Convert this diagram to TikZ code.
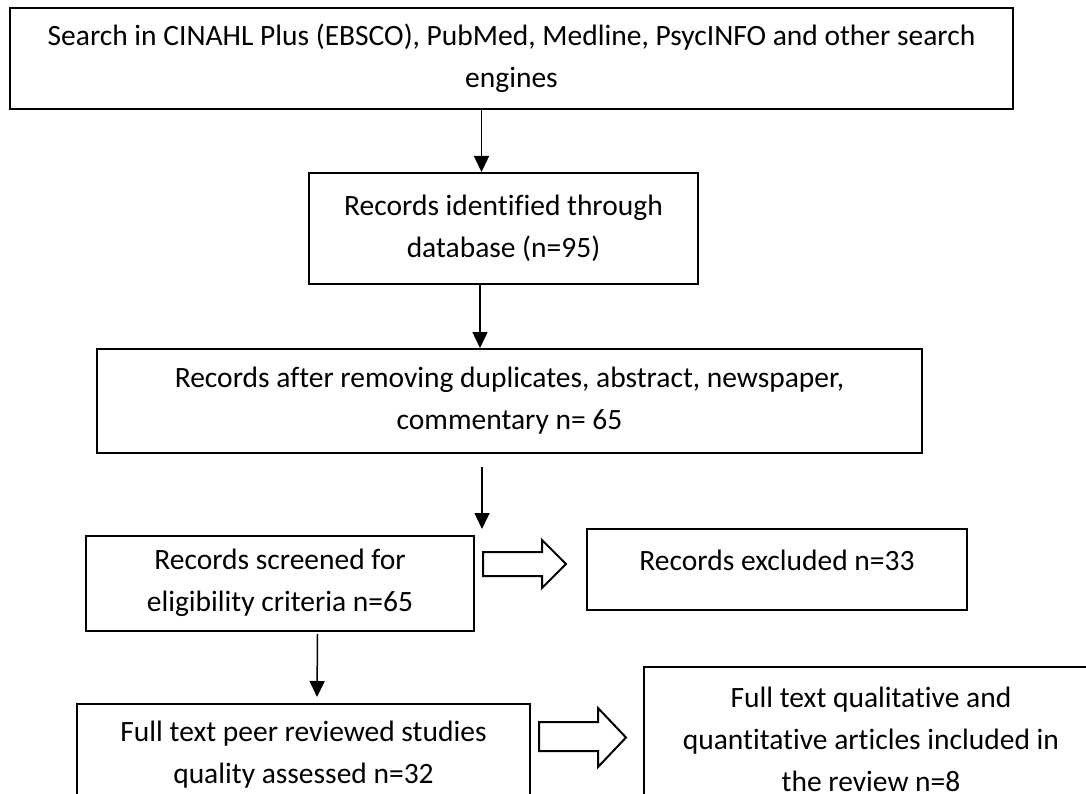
\documentclass[tikz,border=0pt]{standalone}
\usepackage{fontspec}
\setmainfont[Ligatures=NoCommon]{Carlito}
\usetikzlibrary{arrows.meta}
\begin{document}
\begin{tikzpicture}[x=1pt,y=-1pt,
  box/.style={draw=black, line width=2pt, rectangle, inner sep=0pt, align=center,
    font=\fontsize{29.5}{42}\selectfont},
  arr/.style={line width=1.5pt, -{Triangle[length=16pt,width=15pt]}},
  blockarr/.style={draw=black, line width=2pt, fill=white, line join=miter}]
\useasboundingbox (0,0) rectangle (1086,794);
\clip (0,0) rectangle (1086,794);
\fill[white] (0,0) rectangle (1086,794);

\node[box, minimum width=1003pt, minimum height=101pt] (b1) at (511.5,58.5)
  {Search in CINAHL Plus (EBSCO), PubMed, Medline, PsycINFO and other search\\engines};
\node[box, minimum width=389pt, minimum height=111pt] (b2) at (503.5,228.5)
  {Records identified through\\database (n=95)};
\node[box, minimum width=825pt, minimum height=104pt] (b3) at (509.5,401)
  {Records after removing duplicates, abstract, newspaper,\\commentary n= 65};
\node[box, minimum width=388pt, minimum height=95pt] (b4) at (280,583)
  {Records screened for\\eligibility criteria n=65};
\node[box, minimum width=380pt, minimum height=81pt] (b5) at (777,569.5)
  {\raisebox{9pt}[\height][\depth]{Records excluded n=33}};
\node[box, minimum width=453pt, minimum height=102pt] (b6) at (303.5,755)
  {Full text peer reviewed studies\\quality assessed n=32};
\node[box, minimum width=454pt, minimum height=144pt] (b7) at (871,739)
  {Full text qualitative and\\quantitative articles included in\\the review n=8};

\coordinate (x1) at (481.5,0);
\coordinate (x2) at (480,0);
\draw[arr] (b1.south -| x1) -- (b2.north -| x1);
\draw[arr] (b2.south -| x2) -- (b3.north -| x2);
\coordinate (a3s) at (482,467);
\coordinate (a3e) at (482,529);
\draw[arr] (a3s) -- (a3e);
\coordinate (a4s) at (317.5,634);
\coordinate (a4e) at (317,697);
\draw[arr] (a4s) -- (a4e);

\draw[blockarr] (483,552) -- (542,552) -- (542,540) -- (566,564) -- (542,588) -- (542,576) -- (483,576) -- cycle;
\draw[blockarr] (539,722) -- (598,722) -- (598,708) -- (626,737.5) -- (598,767) -- (598,751) -- (539,751) -- cycle;
\end{tikzpicture}
\end{document}
